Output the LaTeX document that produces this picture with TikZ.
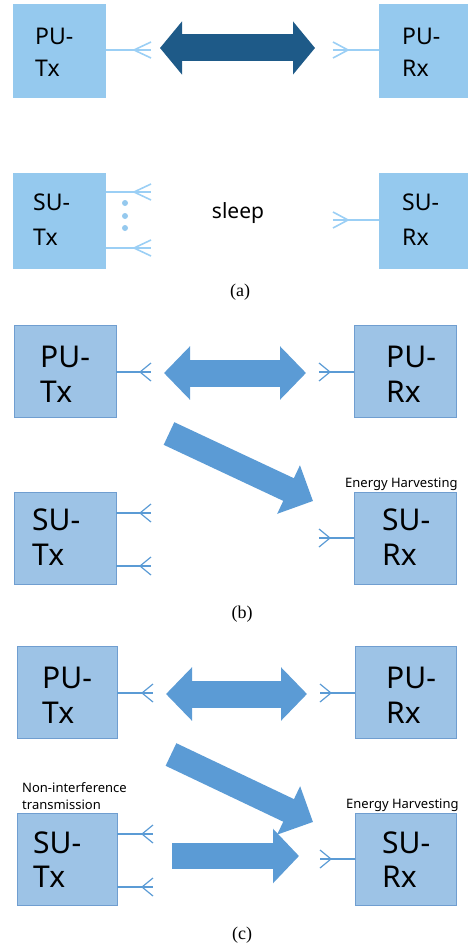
\documentclass[tikz,border=0pt]{standalone}
\usepackage{fontspec}
\setmainfont{Noto Sans}
\newfontfamily\capfont{Liberation Serif}
\usetikzlibrary{arrows.meta}
\definecolor{boxA}{RGB}{149,201,238}
\definecolor{antA}{RGB}{155,207,245}
\definecolor{darkA}{RGB}{30,90,136}
\definecolor{boxB}{RGB}{157,195,230}
\definecolor{edgeB}{RGB}{112,158,208}
\definecolor{blueB}{RGB}{91,155,213}
\tikzset{
  boxa/.style={fill=boxA, draw=none, anchor=north west, outer sep=0pt, inner sep=0pt},
  boxb/.style={fill=boxB, draw=edgeB, line width=0.9pt, anchor=north west, outer sep=0pt, inner sep=0pt},
  lblA/.style={anchor=base west, inner sep=0pt, font=\fontsize{23}{26}\selectfont},
  lblB/.style={anchor=base west, inner sep=0pt, font=\fontsize{30}{34}\selectfont},
  small/.style={anchor=base west, inner sep=0pt, font=\fontsize{13}{15}\selectfont},
  capt/.style={inner sep=0pt, font=\capfont\fontsize{18}{20}\selectfont},
  anta/.style={draw=antA, line width=1.6pt},
  antb/.style={draw=blueB, line width=1.2pt},
  dot/.style={circle, fill=boxA, inner sep=0pt, minimum size=6pt},
}
\begin{document}
\begin{tikzpicture}[x=1pt, y=-1pt]
\useasboundingbox (0,0) rectangle (468,947);

% ---------------- panel (a) ----------------
\node[boxa, minimum width=93pt, minimum height=94pt] (aputx) at (13,4) {};
\node[boxa, minimum width=90pt, minimum height=94pt] (apurx) at (379,4) {};
\node[boxa, minimum width=93pt, minimum height=96pt] (asutx) at (13,173) {};
\node[boxa, minimum width=90pt, minimum height=96pt] (asurx) at (379,173) {};
\node[lblA] (aputx1) at (35,45) {PU-};
\node[lblA] (aputx2) at (35,77) {Tx};
\node[lblA] (apurx1) at (402,45) {PU-};
\node[lblA] (apurx2) at (402,77) {Rx};
\node[lblA] (asutx1) at (33,210) {SU-};
\node[lblA] (asutx2) at (33,245) {Tx};
\node[lblA] (asurx1) at (402,210) {SU-};
\node[lblA] (asurx2) at (402,245) {Rx};

\coordinate (aa1) at (151,50);
\draw[anta] (aputx.east |- aa1) -- (aa1);
\draw[anta] (aa1) ++(0,-8) -- ++(-17,8) -- ++(17,8);
\coordinate (aa2) at (333,50);
\draw[anta] (apurx.west |- aa2) -- (aa2);
\draw[anta] (aa2) ++(0,-8) -- ++(15,8) -- ++(-15,8);
\coordinate (aa3) at (151,192);
\draw[anta] (asutx.east |- aa3) -- (aa3);
\draw[anta] (aa3) ++(0,-8) -- ++(-17,8) -- ++(17,8);
\coordinate (aa4) at (151,248);
\draw[anta] (asutx.east |- aa4) -- (aa4);
\draw[anta] (aa4) ++(0,-8) -- ++(-17,8) -- ++(17,8);
\coordinate (aa5) at (333,220);
\draw[anta] (asurx.west |- aa5) -- (aa5);
\draw[anta] (aa5) ++(0,-8) -- ++(15,8) -- ++(-15,8);
\node[dot] (ad1) at (125,203) {};
\node[dot] (ad2) at (125,216) {};
\node[dot] (ad3) at (125,228) {};

\coordinate (aL) at (160,48);
\coordinate (aR) at (315,48);
\draw[darkA, line width=27pt, {Triangle[width=52pt,length=22pt]}-{Triangle[width=52pt,length=22pt]}] (aL) -- (aR);
\node[anchor=base, inner sep=0pt, font=\fontsize{21}{24}\selectfont] (sleep) at (238,218) {sleep};
\node[capt] (capa) at (240,292) {(a)};

% ---------------- panel (b) ----------------
\node[boxb, minimum width=102pt, minimum height=92pt] (bputx) at (14,325) {};
\node[boxb, minimum width=102pt, minimum height=92pt] (bpurx) at (354,325) {};
\node[boxb, minimum width=102pt, minimum height=92pt] (bsutx) at (14,492) {};
\node[boxb, minimum width=102pt, minimum height=92pt] (bsurx) at (354,492) {};
\node[lblB] (bputx1) at (40,367) {PU-};
\node[lblB] (bputx2) at (40,402) {Tx};
\node[lblB] (bpurx1) at (386,367) {PU-};
\node[lblB] (bpurx2) at (386,402) {Rx};
\node[lblB] (bsutx1) at (32,530) {SU-};
\node[lblB] (bsutx2) at (32,565) {Tx};
\node[lblB] (bsurx1) at (382,530) {SU-};
\node[lblB] (bsurx2) at (382,565) {Rx};
\node[small] (beh) at (345,487) {Energy Harvesting};

\coordinate (ba1) at (151,372);
\draw[antb] (bputx.east |- ba1) -- (ba1);
\draw[antb] (ba1) ++(0,-9) -- ++(-11,9) -- ++(11,9);
\coordinate (ba2) at (319,372);
\draw[antb] (bpurx.west |- ba2) -- (ba2);
\draw[antb] (ba2) ++(0,-9) -- ++(11,9) -- ++(-11,9);
\coordinate (ba3) at (151,513);
\draw[antb] (bsutx.east |- ba3) -- (ba3);
\draw[antb] (ba3) ++(0,-9) -- ++(-11,9) -- ++(11,9);
\coordinate (ba4) at (151,566);
\draw[antb] (bsutx.east |- ba4) -- (ba4);
\draw[antb] (ba4) ++(0,-9) -- ++(-11,9) -- ++(11,9);
\coordinate (ba5) at (319,538);
\draw[antb] (bsurx.west |- ba5) -- (ba5);
\draw[antb] (ba5) ++(0,-9) -- ++(11,9) -- ++(-11,9);

\coordinate (bL) at (164,373);
\coordinate (bR) at (306,373);
\draw[blueB, line width=27pt, {Triangle[width=52pt,length=26pt]}-{Triangle[width=52pt,length=26pt]}] (bL) -- (bR);
\coordinate (bD1) at (169,433.5);
\coordinate (bD2) at (313,501);
\draw[blueB, line width=25pt, -{Triangle[width=52pt,length=27pt]}] (bD1) -- (bD2);
\node[capt] (capb) at (242,614) {(b)};

% ---------------- panel (c) ----------------
\node[boxb, minimum width=100pt, minimum height=92pt] (cputx) at (17,646) {};
\node[boxb, minimum width=101pt, minimum height=92pt] (cpurx) at (355,646) {};
\node[boxb, minimum width=100pt, minimum height=92pt] (csutx) at (17,813) {};
\node[boxb, minimum width=101pt, minimum height=92pt] (csurx) at (355,813) {};
\node[lblB] (cputx1) at (42,688) {PU-};
\node[lblB] (cputx2) at (42,723) {Tx};
\node[lblB] (cpurx1) at (386,688) {PU-};
\node[lblB] (cpurx2) at (386,723) {Rx};
\node[lblB] (csutx1) at (33,853) {SU-};
\node[lblB] (csutx2) at (33,887) {Tx};
\node[lblB] (csurx1) at (382,853) {SU-};
\node[lblB] (csurx2) at (382,887) {Rx};
\node[small] (ceh) at (346,808) {Energy Harvesting};
\node[small] (cni1) at (22,792) {Non-interference};
\node[small] (cni2) at (22,809) {transmission};

\coordinate (ca1) at (153,693);
\draw[antb] (cputx.east |- ca1) -- (ca1);
\draw[antb] (ca1) ++(0,-9) -- ++(-11,9) -- ++(11,9);
\coordinate (ca2) at (320,693);
\draw[antb] (cpurx.west |- ca2) -- (ca2);
\draw[antb] (ca2) ++(0,-9) -- ++(11,9) -- ++(-11,9);
\coordinate (ca3) at (153,834);
\draw[antb] (csutx.east |- ca3) -- (ca3);
\draw[antb] (ca3) ++(0,-9) -- ++(-11,9) -- ++(11,9);
\coordinate (ca4) at (153,887);
\draw[antb] (csutx.east |- ca4) -- (ca4);
\draw[antb] (ca4) ++(0,-9) -- ++(-11,9) -- ++(11,9);
\coordinate (ca5) at (320,859);
\draw[antb] (csurx.west |- ca5) -- (ca5);
\draw[antb] (ca5) ++(0,-9) -- ++(11,9) -- ++(-11,9);

\coordinate (cL) at (166,694);
\coordinate (cR) at (307,694);
\draw[blueB, line width=27pt, {Triangle[width=52pt,length=26pt]}-{Triangle[width=52pt,length=26pt]}] (cL) -- (cR);
\coordinate (cD1) at (171,754.5);
\coordinate (cD2) at (313,822);
\draw[blueB, line width=25pt, -{Triangle[width=52pt,length=27pt]}] (cD1) -- (cD2);
\coordinate (cH1) at (172,856);
\coordinate (cH2) at (299,856);
\draw[blueB, line width=26pt, -{Triangle[width=53pt,length=26pt]}] (cH1) -- (cH2);
\node[capt] (capc) at (242,935) {(c)};
\end{tikzpicture}
\end{document}
